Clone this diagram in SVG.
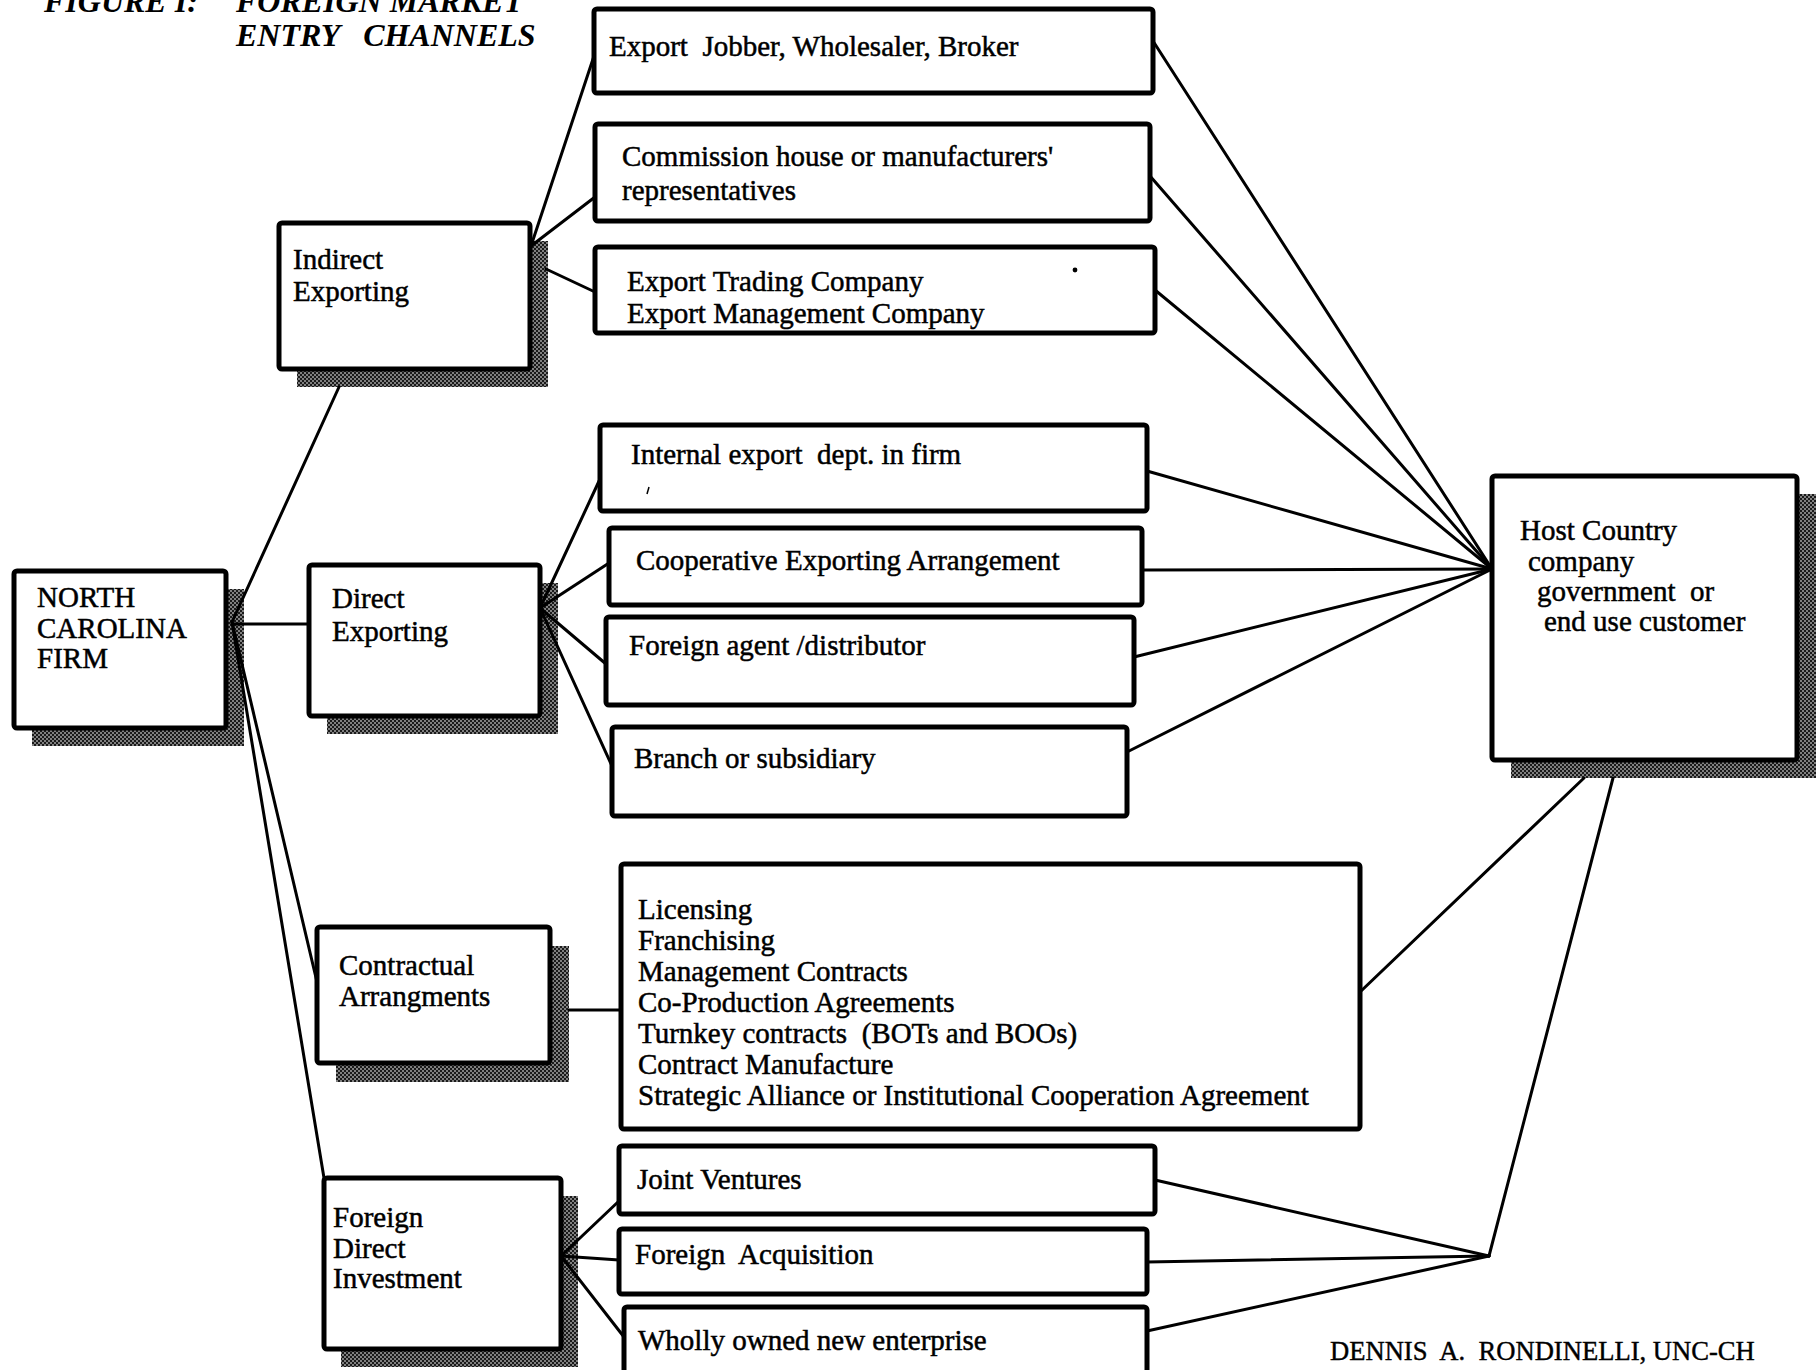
<svg xmlns="http://www.w3.org/2000/svg" width="1820" height="1370" viewBox="0 0 1820 1370">
<style>
.box{fill:#fff;stroke:#000;stroke-width:5;stroke-linejoin:round}
.sh{fill:url(#dots);stroke:none}
.t{font-family:"Liberation Serif","Times New Roman",serif;font-size:29px;fill:#000;stroke:#000;stroke-width:0.5;white-space:pre}
.ttl{font-family:"Liberation Serif","Times New Roman",serif;font-size:32px;font-weight:bold;font-style:italic;fill:#000;white-space:pre}
.ft{font-family:"Liberation Serif","Times New Roman",serif;font-size:26.6px;fill:#000;stroke:#000;stroke-width:0.4;white-space:pre}
.c{stroke:#000;stroke-width:3;fill:none;stroke-linecap:round}
</style>
<defs>
<pattern id="dots" width="4" height="4" patternUnits="userSpaceOnUse">
<rect width="4" height="4" fill="#1a1a1a"/>
<rect x="0" y="0" width="2" height="2" fill="#808080"/>
<rect x="2" y="2" width="2" height="2" fill="#808080"/>
</pattern>
</defs>
<rect width="1820" height="1370" fill="#fff"/>
<g id="title">
<text class="ttl" x="44" y="12">FIGURE I:</text>
<text class="ttl" x="236" y="12">FOREIGN MARKET</text>
<text class="ttl" x="236" y="46">ENTRY   CHANNELS</text>
</g>
<g id="nc">
<rect class="sh" x="32" y="589" width="212" height="157"/>
<rect class="box" x="14" y="571" width="212" height="157" rx="3"/>
<text class="t" x="37" y="607">NORTH</text>
<text class="t" x="37" y="638">CAROLINA</text>
<text class="t" x="37" y="668">FIRM</text>
</g>
<g id="indirect">
<rect class="sh" x="297" y="241" width="251" height="146"/>
<rect class="box" x="279" y="223" width="251" height="146" rx="3"/>
<text class="t" x="293" y="269">Indirect</text>
<text class="t" x="293" y="301">Exporting</text>
</g>
<g id="direct">
<rect class="sh" x="327" y="583" width="231" height="151"/>
<rect class="box" x="309" y="565" width="231" height="151" rx="3"/>
<text class="t" x="332" y="608">Direct</text>
<text class="t" x="332" y="641">Exporting</text>
</g>
<g id="contractual">
<rect class="sh" x="336" y="946" width="233" height="136"/>
<rect class="box" x="317" y="927" width="233" height="136" rx="3"/>
<text class="t" x="339" y="975">Contractual</text>
<text class="t" x="339" y="1006">Arrangments</text>
</g>
<g id="fdi">
<rect class="sh" x="341" y="1196" width="237" height="171"/>
<rect class="box" x="324" y="1178" width="237" height="171" rx="3"/>
<text class="t" x="333" y="1227">Foreign</text>
<text class="t" x="333" y="1258">Direct</text>
<text class="t" x="333" y="1288">Investment</text>
</g>
<g id="host">
<rect class="sh" x="1511" y="494" width="305" height="284"/>
<rect class="box" x="1492" y="476" width="305" height="284" rx="3"/>
<text class="t" x="1520" y="540">Host Country</text>
<text class="t" x="1528" y="571">company</text>
<text class="t" x="1537" y="601">government  or</text>
<text class="t" x="1544" y="631">end use customer</text>
</g>
<g id="jobber">
<rect class="box" x="594" y="9" width="559" height="84" rx="3"/>
<text class="t" x="609" y="56">Export  Jobber, Wholesaler, Broker</text>
</g>
<g id="commission">
<rect class="box" x="595" y="124" width="555" height="97" rx="3"/>
<text class="t" x="622" y="166">Commission house or manufacturers'</text>
<text class="t" x="622" y="200">representatives</text>
</g>
<g id="trading">
<rect class="box" x="595" y="247" width="560" height="86" rx="3"/>
<text class="t" x="627" y="291">Export Trading Company</text>
<text class="t" x="627" y="323">Export Management Company</text>
<circle cx="1075" cy="270" r="2.4" fill="#000"/>
</g>
<g id="internal">
<rect class="box" x="600" y="425" width="547" height="86" rx="3"/>
<text class="t" x="631" y="464">Internal export  dept. in firm</text>
<path d="M649 487 L647 494" stroke="#000" stroke-width="1.5"/>
</g>
<g id="cooperative">
<rect class="box" x="609" y="528" width="533" height="77" rx="3"/>
<text class="t" x="636" y="570">Cooperative Exporting Arrangement</text>
</g>
<g id="agent">
<rect class="box" x="606" y="617" width="528" height="88" rx="3"/>
<text class="t" x="629" y="655">Foreign agent /distributor</text>
</g>
<g id="branch">
<rect class="box" x="612" y="727" width="515" height="89" rx="3"/>
<text class="t" x="634" y="768">Branch or subsidiary</text>
</g>
<g id="contracts">
<rect class="box" x="621" y="864" width="739" height="265" rx="3"/>
<text class="t" x="638" y="919">Licensing</text>
<text class="t" x="638" y="950">Franchising</text>
<text class="t" x="638" y="981">Management Contracts</text>
<text class="t" x="638" y="1012">Co-Production Agreements</text>
<text class="t" x="638" y="1043">Turnkey contracts  (BOTs and BOOs)</text>
<text class="t" x="638" y="1074">Contract Manufacture</text>
<text class="t" x="638" y="1105">Strategic Alliance or Institutional Cooperation Agreement</text>
</g>
<g id="jv">
<rect class="box" x="619" y="1146" width="536" height="68" rx="3"/>
<text class="t" x="637" y="1189">Joint Ventures</text>
</g>
<g id="acquisition">
<rect class="box" x="619" y="1229" width="528" height="65" rx="3"/>
<text class="t" x="635" y="1264">Foreign  Acquisition</text>
</g>
<g id="wholly">
<rect class="box" x="624" y="1307" width="523" height="72" rx="3"/>
<text class="t" x="638" y="1350">Wholly owned new enterprise</text>
</g>
<g id="connectors">
<line class="c" x1="232" y1="622" x2="339" y2="387"/>
<line class="c" x1="232" y1="624" x2="309" y2="624"/>
<line class="c" x1="232" y1="622" x2="317" y2="982"/>
<line class="c" x1="232" y1="622" x2="324" y2="1178"/>
<line class="c" x1="531" y1="246" x2="594" y2="56"/>
<line class="c" x1="531" y1="246" x2="595" y2="197"/>
<line class="c" x1="546" y1="269" x2="595" y2="292"/>
<line class="c" x1="540" y1="608" x2="600" y2="479"/>
<line class="c" x1="540" y1="608" x2="609" y2="563"/>
<line class="c" x1="540" y1="608" x2="606" y2="664"/>
<line class="c" x1="540" y1="608" x2="612" y2="766"/>
<line class="c" x1="569" y1="1010" x2="621" y2="1010"/>
<line class="c" x1="561" y1="1256" x2="619" y2="1201"/>
<line class="c" x1="561" y1="1256" x2="619" y2="1260"/>
<line class="c" x1="561" y1="1256" x2="624" y2="1337"/>
<line class="c" x1="1153" y1="41" x2="1492" y2="569"/>
<line class="c" x1="1150" y1="176" x2="1492" y2="569"/>
<line class="c" x1="1155" y1="290" x2="1492" y2="569"/>
<line class="c" x1="1147" y1="471" x2="1492" y2="569"/>
<line class="c" x1="1142" y1="570" x2="1492" y2="569"/>
<line class="c" x1="1134" y1="657" x2="1492" y2="569"/>
<line class="c" x1="1127" y1="752" x2="1492" y2="569"/>
<line class="c" x1="1360" y1="992" x2="1584" y2="778"/>
<line class="c" x1="1613" y1="778" x2="1489" y2="1256"/>
<line class="c" x1="1155" y1="1180" x2="1489" y2="1256"/>
<line class="c" x1="1147" y1="1262" x2="1489" y2="1256"/>
<line class="c" x1="1147" y1="1331" x2="1489" y2="1256"/>
</g>
<text class="ft" x="1330" y="1360">DENNIS  A.  RONDINELLI, UNC-CH</text>
</svg>
